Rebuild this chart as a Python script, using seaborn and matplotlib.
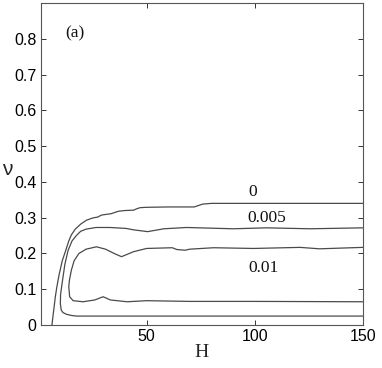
import matplotlib
matplotlib.use("Agg")
import matplotlib.pyplot as plt
import seaborn as sns
import pandas as pd

# Contour "0"
H_c0 = [6.2, 7.0, 7.8, 8.5, 9.5, 11.0, 12.4, 14.0, 15.2, 17.0, 19.5, 22.2, 25.0, 27.5, 29.0, 31.0, 33.5, 35.5, 37.0, 40.0, 44.0, 45.5, 47.0, 50.0, 60.0, 72.0, 74.0, 76.0, 80.0, 100.0, 150.0]
nu_c0 = [0.0, 0.04, 0.08, 0.107, 0.14, 0.18, 0.205, 0.235, 0.252, 0.268, 0.282, 0.293, 0.299, 0.302, 0.307, 0.309, 0.311, 0.315, 0.318, 0.320, 0.321, 0.325, 0.328, 0.329, 0.330, 0.330, 0.334, 0.338, 0.340, 0.340, 0.340]

# Contour "0.005"
H_c1 = [150.0, 125.7, 105.6, 90.0, 68.5, 58.0, 50.5, 44.0, 40.5, 33.0, 26.6, 22.0, 19.5, 17.5, 15.5, 13.7, 12.2, 10.9, 10.2, 10.1, 10.5, 11.3, 12.9, 15.0, 17.5, 25.0, 40.0, 60.0, 100.0, 150.0]
nu_c1 = [0.2716, 0.269, 0.2716, 0.269, 0.2726, 0.269, 0.261, 0.266, 0.270, 0.2726, 0.2726, 0.268, 0.262, 0.250, 0.235, 0.209, 0.170, 0.116, 0.085, 0.060, 0.042, 0.035, 0.030, 0.027, 0.025, 0.025, 0.025, 0.025, 0.025, 0.025]

# Contour "0.01"
H_c2 = [150.0, 130.0, 121.0, 99.5, 81.0, 70.0, 67.8, 64.0, 61.9, 50.0, 44.0, 38.4, 35.0, 31.0, 26.8, 22.0, 18.7, 16.5, 15.2, 14.3, 14.0, 14.4, 16.0, 20.6, 26.0, 29.9, 33.3, 41.0, 50.0, 70.0, 100.0, 150.0]
nu_c2 = [0.217, 0.213, 0.217, 0.214, 0.216, 0.212, 0.209, 0.211, 0.216, 0.214, 0.205, 0.191, 0.200, 0.212, 0.2186, 0.212, 0.200, 0.180, 0.1535, 0.125, 0.107, 0.079, 0.068, 0.065, 0.070, 0.079, 0.070, 0.065, 0.068, 0.066, 0.066, 0.065]

contour_labels = ["0", "0.005", "0.01"]
label_H = [99.0, 105.5, 104.0]
label_nu = [0.372, 0.298, 0.158]

x_ticks = [50, 100, 150]
y_ticks = [0, 0.1, 0.2, 0.3, 0.4, 0.5, 0.6, 0.7, 0.8]

sns.set_style("ticks")
plt.rcParams["font.family"] = ["Liberation Sans", "DejaVu Sans"]

fig = plt.figure(figsize=(3.82, 3.68), dpi=100)
ax = fig.add_axes([0.1065, 0.1168, 0.843, 0.875])

line_color = "#4a4a4a"
for Hs, nus in [(H_c0, nu_c0), (H_c1, nu_c1), (H_c2, nu_c2)]:
    df = pd.DataFrame({"H": Hs, "nu": nus})
    sns.lineplot(data=df, x="H", y="nu", sort=False, estimator=None,
                 color=line_color, linewidth=0.9, ax=ax)

serif = ["Liberation Serif", "DejaVu Serif"]
for txt, hx, ny in zip(contour_labels, label_H, label_nu):
    ax.text(hx, ny, txt, ha="center", va="center", fontsize=12.5,
            family=serif, color="#111111")
ax.text(16.8, 0.814, "(a)", ha="center", va="center", fontsize=12.5,
        family=serif, color="#111111")

ax.set_xlim(1, 150)
ax.set_ylim(0, 0.9)
ax.set_xticks(x_ticks)
ax.set_xticklabels([str(v) for v in x_ticks])
ax.set_yticks(y_ticks)
ax.set_yticklabels(["0"] + [f"{v:.1f}" for v in y_ticks[1:]])
ax.tick_params(direction="in", length=3.5, width=0.7, labelsize=11.5,
               top=True, right=True, colors="#333333", labelcolor="black",
               pad=3)
for s in ax.spines.values():
    s.set_linewidth(0.8)
    s.set_color("#555555")

ax.set_xlabel("H", family=serif, fontsize=14, labelpad=0)
ax.set_ylabel("ν", fontsize=15, rotation=0, labelpad=6)
ax.yaxis.set_label_coords(-0.105, 0.455)

fig.savefig("out.png", dpi=100)
